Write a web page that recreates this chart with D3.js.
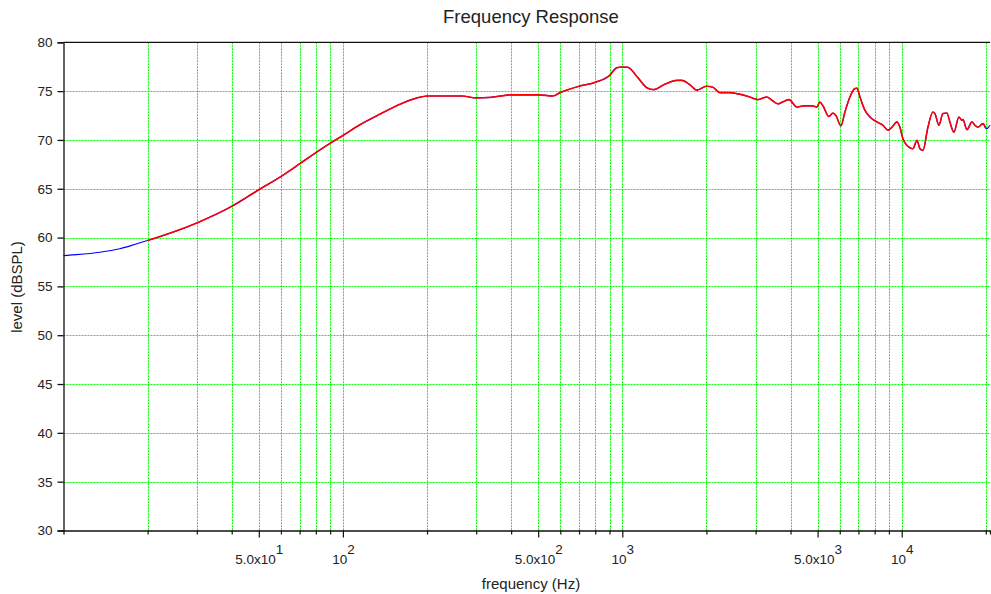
<!DOCTYPE html>
<html>
<head>
<meta charset="utf-8">
<script src="https://cdn.jsdelivr.net/npm/d3@7"></script>
<style>
  html, body { margin: 0; padding: 0; background: #fff; }
  svg { display: block; }
  text { font-family: "Liberation Sans", Arial, Helvetica, sans-serif; fill: #222; }
</style>
</head>
<body>
<svg id="chart" width="991" height="594"></svg>
<script>
// ---- data ----
const freq = [
  10, 10.5, 13.5, 15.9, 18.3, 20, 30, 40, 50, 60,
  70, 80, 90, 100, 115, 136, 160, 184, 200, 267,
  300, 336, 400, 500, 564, 600, 700, 800, 900, 956,
  1000, 1047, 1128, 1224, 1297, 1397, 1568, 1634, 1745, 1849,
  2000, 2110, 2235, 2428, 2572, 2862, 3057, 3292, 3431, 3605,
  3757, 3948, 4216, 4430, 4811, 4970, 5095, 5224, 5488, 5673,
  5814, 6059, 6262, 6525, 6800, 6914, 7087, 7386, 7698, 8152,
  8565, 8925, 9223, 9612, 9853, 10100, 10700, 10970, 11340, 11620,
  11910, 12410, 12930, 13150, 13590, 14040, 14510, 14870, 15370, 16020,
  16430, 16560, 17120, 17840, 18280, 18740, 19530, 20000, 20180, 20690
];
const level = [
  58.15, 58.2, 58.5, 58.86, 59.37, 59.7, 61.5, 63.2, 64.9, 66.25,
  67.55, 68.7, 69.65, 70.45, 71.55, 72.65, 73.65, 74.3, 74.5, 74.5,
  74.3, 74.35, 74.62, 74.62, 74.5, 74.85, 75.5, 75.9, 76.6, 77.4,
  77.47, 77.44, 76.5, 75.35, 75.15, 75.6, 76.1, 76.1, 75.65, 75.1,
  75.5, 75.4, 74.85, 74.85, 74.74, 74.4, 74.13, 74.4, 74.06, 73.7,
  73.9, 74.13, 73.37, 73.48, 73.48, 73.37, 73.88, 73.5, 72.4, 72.75,
  72.5, 71.45, 72.86, 74.4, 75.26, 75.3, 74.4, 73.03, 72.35, 71.84,
  71.5, 71.0, 71.3, 71.84, 71.3, 70.13, 69.2, 69.1, 69.96, 69.1,
  68.93, 71.3, 72.86, 72.7, 71.5, 72.7, 72.76, 71.84, 70.8, 72.35,
  72.0, 72.1, 71.05, 71.84, 71.5, 71.3, 71.67, 71.2, 71.16, 71.5
];
// red segment frequency band
const redBand = [20, 20000];

// ticks
const yTicks = [30, 35, 40, 45, 50, 55, 60, 65, 70, 75, 80];
const xMinorTicks = [20, 30, 40, 60, 70, 80, 90, 200, 300, 400, 600, 700, 800, 900,
                     2000, 3000, 4000, 6000, 7000, 8000, 9000, 20000];
const xMajorTicks = [50, 100, 500, 1000, 5000, 10000];
const xMajorLabels = [["5.0x10", "1"], ["10", "2"], ["5.0x10", "2"], ["10", "3"], ["5.0x10", "3"], ["10", "4"]];
const xDomain = [10, 20700];
const yDomain = [30, 80];

const titleText = "Frequency Response";
const xLabelText = "frequency (Hz)";
const yLabelText = "level (dBSPL)";

// ---- layout ----
const L = 63.5, R = 990, T = 42.3, B = 530.5;
const svg = d3.select("#chart");

const x = d3.scaleLog().domain(xDomain).range([L, R]);
const y = d3.scaleLinear().domain(yDomain).range([B, T]);

const gridColor = "#00ff00";

// grid
const grid = svg.append("g");
grid.selectAll("line.vg").data(xMinorTicks.concat(xMajorTicks)).join("line")
  .attr("x1", d => Math.round(x(d)) + 0.5).attr("x2", d => Math.round(x(d)) + 0.5)
  .attr("y1", T).attr("y2", B)
  .attr("stroke", gridColor).attr("stroke-width", 1).attr("stroke-dasharray", "2,1");
grid.selectAll("line.hg").data(yTicks.filter(v => v > 30 && v < 80)).join("line")
  .attr("x1", L).attr("x2", R)
  .attr("y1", d => Math.round(y(d)) + 0.5).attr("y2", d => Math.round(y(d)) + 0.5)
  .attr("stroke", gridColor).attr("stroke-width", 1).attr("stroke-dasharray", "2,1");

// data lines
const pts = freq.map((f, i) => [f, level[i]]);
const line = d3.line().x(d => x(d[0])).y(d => y(d[1])).curve(d3.curveMonotoneX);
svg.append("path").datum(pts).attr("d", line)
  .attr("fill", "none").attr("stroke", "#0000ff").attr("stroke-width", 1.2);
svg.append("path").datum(pts.filter(d => d[0] >= redBand[0] && d[0] <= redBand[1])).attr("d", line)
  .attr("fill", "none").attr("stroke", "#ff0000").attr("stroke-width", 1.6);

// frame: top, left, bottom
svg.append("line").attr("x1", L).attr("x2", R).attr("y1", T).attr("y2", T)
  .attr("stroke", "#111").attr("stroke-width", 1.3);

// y axis
const yAxis = d3.axisLeft(y).tickValues(yTicks).tickSize(6).tickPadding(5).tickFormat(d3.format("d"));
const gy = svg.append("g").attr("transform", `translate(${L},0)`).call(yAxis);
gy.select(".domain").attr("stroke", "#111").attr("stroke-width", 1.3);
gy.selectAll(".tick line").attr("stroke", "#111").attr("stroke-width", 1.3);
gy.selectAll(".tick text").attr("font-size", 13.5).attr("fill", "#222")
  .attr("font-family", "Liberation Sans, Arial, sans-serif");

// x axis minor
const gxm = svg.append("g").attr("transform", `translate(0,${B})`)
  .call(d3.axisBottom(x).tickValues(xMinorTicks).tickSize(4).tickFormat(""));
gxm.select(".domain").attr("stroke", "#111").attr("stroke-width", 1.3);
gxm.selectAll(".tick line").attr("stroke", "#111").attr("stroke-width", 1.2);

// x axis major
const gx = svg.append("g").attr("transform", `translate(0,${B})`)
  .call(d3.axisBottom(x).tickValues(xMajorTicks).tickSize(7).tickFormat(""));
gx.select(".domain").remove();
gx.selectAll(".tick line").attr("stroke", "#111").attr("stroke-width", 1.2);
gx.selectAll(".tick").each(function(d, i) {
  const lab = xMajorLabels[i];
  const t = d3.select(this).append("text")
    .attr("y", 33).attr("text-anchor", "middle")
    .attr("font-size", 13.5).attr("fill", "#222")
    .attr("font-family", "Liberation Sans, Arial, sans-serif");
  t.append("tspan").text(lab[0]);
  t.append("tspan").attr("dy", -10).text(lab[1]);
});

// titles
svg.append("text").attr("x", 531).attr("y", 23).attr("text-anchor", "middle")
  .attr("font-size", 18.5).text(titleText);
svg.append("text").attr("x", 531).attr("y", 589).attr("text-anchor", "middle")
  .attr("font-size", 15).text(xLabelText);
svg.append("text").attr("transform", "translate(22,287) rotate(-90)").attr("text-anchor", "middle")
  .attr("font-size", 15).text(yLabelText);
</script>
</body>
</html>
